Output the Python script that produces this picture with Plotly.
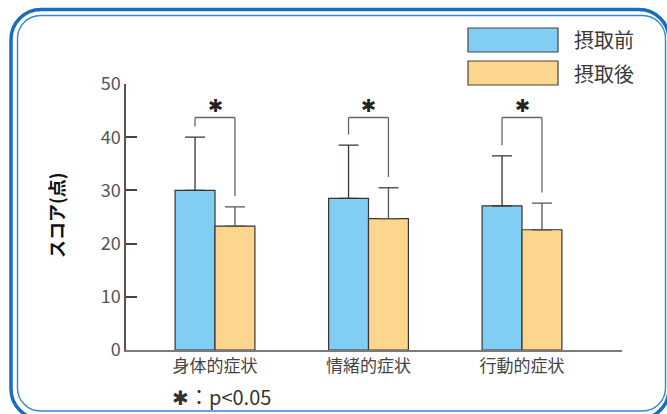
import plotly.graph_objects as go

categories = ["身体的症状", "情緒的症状", "行動的症状"]
before_mean = [30.0, 28.5, 27.1]
before_err = [10.0, 10.0, 9.4]
after_mean = [23.3, 24.7, 22.6]
after_err = [3.6, 5.8, 5.0]
series_names = ["摂取前", "摂取後"]
y_ticks = [0, 10, 20, 30, 40, 50]
sig_marks = ["✱", "✱", "✱"]
sig_level = 43.7
footnote = "✱：p<0.05"
y_title = "スコア(点)"

BLUE = "#80CEF3"
ORANGE = "#FCD68D"
EDGE = "#3a3333"
FONT = "Noto Sans CJK JP"

W, H = 667, 414
L, R, T, B = 126, 622, 84, 350


def px(p):
    return (p - L) / (R - L)


def py(p):
    return (B - p) / (B - T)


fig = go.Figure()
fig.add_trace(go.Bar(
    x=categories, y=before_mean, name=series_names[0],
    marker=dict(color=BLUE, line=dict(color=EDGE, width=1.2)),
    error_y=dict(type="data", symmetric=False, array=before_err,
                 arrayminus=[0] * len(before_err), color="#3a3333",
                 thickness=1.3, width=10),
    showlegend=False,
))
fig.add_trace(go.Bar(
    x=categories, y=after_mean, name=series_names[1],
    marker=dict(color=ORANGE, line=dict(color=EDGE, width=1.2)),
    error_y=dict(type="data", symmetric=False, array=after_err,
                 arrayminus=[0] * len(after_err), color="#555555",
                 thickness=1.3, width=10),
    showlegend=False,
))

shapes = []
half = 0.13
gap = 2.0
for i in range(len(categories)):
    xl, xr = i - half, i + half
    yl = before_mean[i] + before_err[i] + gap
    yr = after_mean[i] + after_err[i] + gap
    line = dict(color="#666666", width=1.3)
    shapes.append(dict(type="line", xref="x", yref="y", x0=xl, x1=xl, y0=yl, y1=sig_level, line=line))
    shapes.append(dict(type="line", xref="x", yref="y", x0=xl, x1=xr, y0=sig_level, y1=sig_level, line=line))
    shapes.append(dict(type="line", xref="x", yref="y", x0=xr, x1=xr, y0=sig_level, y1=yr, line=line))


def rounded_path(x0, y0, x1, y1, r):
    k = 0.5523 * r

    def P(a, b):
        return f"{px(a):.5f},{py(b):.5f}"
    d = "M " + P(x0 + r, y0)
    d += " L " + P(x1 - r, y0)
    d += " C " + P(x1 - r + k, y0) + " " + P(x1, y0 + r - k) + " " + P(x1, y0 + r)
    d += " L " + P(x1, y1 - r)
    d += " C " + P(x1, y1 - r + k) + " " + P(x1 - r + k, y1) + " " + P(x1 - r, y1)
    d += " L " + P(x0 + r, y1)
    d += " C " + P(x0 + r - k, y1) + " " + P(x0, y1 - r + k) + " " + P(x0, y1 - r)
    d += " L " + P(x0, y0 + r)
    d += " C " + P(x0, y0 + r - k) + " " + P(x0 + r - k, y0) + " " + P(x0 + r, y0)
    d += " Z"
    return d


shapes.append(dict(type="path", xref="paper", yref="paper",
                   path=rounded_path(11, 9.5, 669, 419, 30),
                   line=dict(color="#1a6dbd", width=3.5), layer="below"))
shapes.append(dict(type="path", xref="paper", yref="paper",
                   path=rounded_path(17.5, 15.5, 665.5, 411, 23),
                   line=dict(color="#3487cf", width=1.4), layer="below"))

legend_colors = [BLUE, ORANGE]
legend_tops = [28, 61]
annotations = []
for name, col, top in zip(series_names, legend_colors, legend_tops):
    shapes.append(dict(type="rect", xref="paper", yref="paper",
                       x0=px(468), x1=px(558), y0=py(top), y1=py(top + 24),
                       fillcolor=col, line=dict(color="#444444", width=1.2)))
    annotations.append(dict(xref="paper", yref="paper", x=px(572), y=py(top + 12),
                            xanchor="left", yanchor="middle", text=name, showarrow=False,
                            font=dict(family=FONT, size=20, color="#3a3a3a")))

for i, m in enumerate(sig_marks):
    annotations.append(dict(xref="x", yref="y", x=categories[i], y=sig_level,
                            yanchor="bottom", xanchor="center", text=m, showarrow=False,
                            yshift=0,
                            font=dict(family="DejaVu Sans", size=18, color="#222222")))

annotations.append(dict(xref="paper", yref="paper", x=px(170), y=py(396),
                        xanchor="left", yanchor="middle", text=footnote, showarrow=False,
                        font=dict(family=FONT, size=20, color="#333333")))
annotations.append(dict(xref="paper", yref="paper", x=px(56), y=py(215),
                        xanchor="center", yanchor="middle", text=y_title, showarrow=False,
                        textangle=-90,
                        font=dict(family=FONT, size=18, color="#111111", weight="bold")))

x0r = -(215 - L) / 153.5
fig.update_layout(
    width=W, height=H,
    margin=dict(l=L, r=W - R, t=T, b=H - B, pad=0),
    paper_bgcolor="white", plot_bgcolor="white",
    barmode="group", bargap=0.48, bargroupgap=0,
    shapes=shapes, annotations=annotations,
    font=dict(family=FONT),
    xaxis=dict(type="category", range=[x0r, x0r + (R - L) / 153.5],
               showline=True, linecolor="#7a7a7a", linewidth=2,
               ticks="", showgrid=False, zeroline=False,
               tickfont=dict(family=FONT, size=17, color="#444444")),
    yaxis=dict(range=[0, 50], tickvals=y_ticks, showline=True,
               linecolor="#555555", linewidth=1.5,
               ticks="inside", ticklen=11, tickwidth=1.5, tickcolor="#444444",
               showgrid=False, zeroline=False,
               tickfont=dict(family=FONT, size=18, color="#555555")),
)

fig.write_html("out.html",
               config={"displayModeBar": False},
               post_script="document.body.style.margin='0px';document.body.style.overflow='hidden';")
